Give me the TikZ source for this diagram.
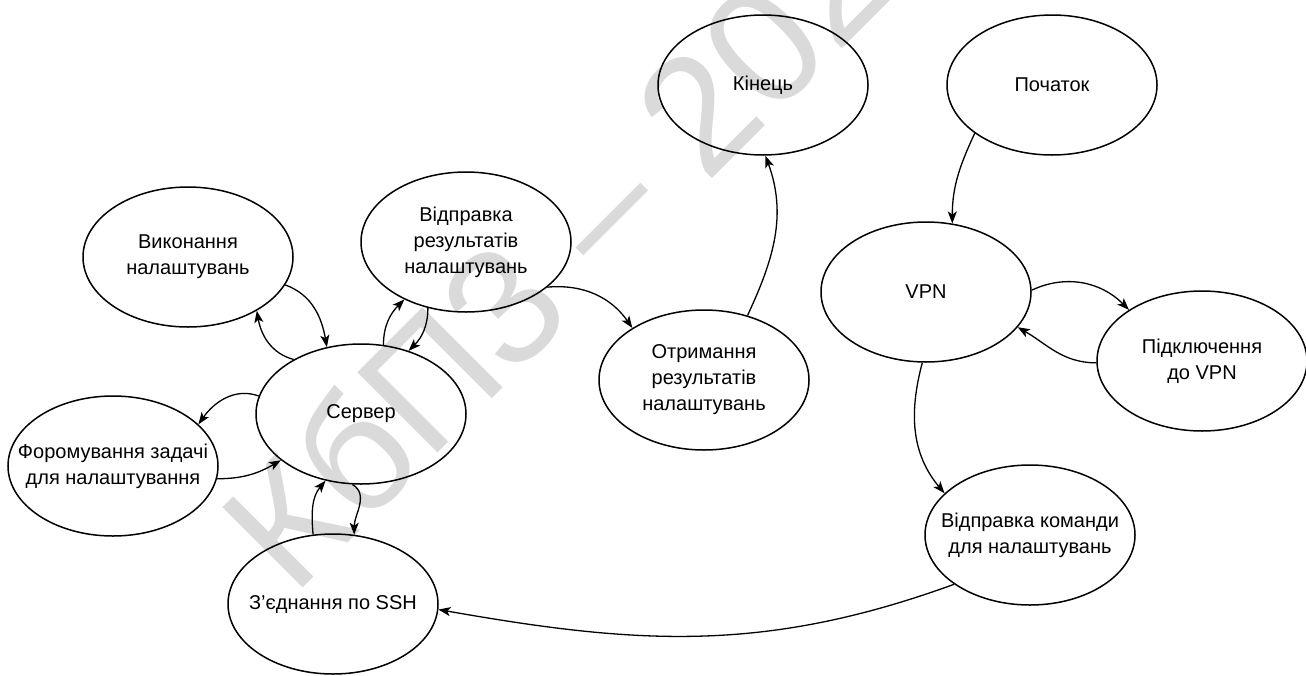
\documentclass[tikz,border=0pt]{standalone}
\usepackage{fontspec}
\setmainfont{Liberation Sans}
\usetikzlibrary{arrows.meta,shapes.geometric}
\definecolor{wmark}{HTML}{DADADA}
\begin{document}
\begin{tikzpicture}[x=1pt,y=-1pt,
  state/.style={draw=black, line width=1.5pt, ellipse, minimum width=210pt, minimum height=140pt, inner sep=0pt},
  lbl/.style={align=center, font=\fontsize{20}{26}\selectfont, inner sep=0pt},
  flow/.style={line width=1.3pt, -{Stealth[length=12pt,width=9pt,inset=3pt]}},
  wm/.style={text=wmark, font=\fontsize{165}{165}\selectfont, inner sep=0pt}]
\useasboundingbox (0,0) rectangle (1306,675);
\clip (0,0) rectangle (1306,675);

% background stamp
\node[wm, rotate=45, anchor=base west] (stamp) at (293,598) {КбП3 – 2021};

% states
\node[state, label={[lbl]center:Кінець}] (ken) at (763,85) {};
\node[state, label={[lbl]center:Початок}] (poch) at (1052,85) {};
\node[state, label={[lbl]center:VPN}] (vpn) at (926,292) {};
\node[state, label={[lbl]center:{Підключення\\до VPN}}] (pidk) at (1202,361) {};
\node[state, label={[lbl]center:{Відправка команди\\для налаштувань}}] (vidk) at (1030,535) {};
\node[state, label={[lbl]center:Сервер}] (srv) at (361,414) {};
\node[state, label={[lbl]center:З'єднання по SSH}] (ssh) at (333,604) {};
\node[state, label={[lbl]center:{Форомування задачі\\для налаштування}}] (form) at (113,466) {};
\node[state, label={[lbl]center:{Виконання\\налаштувань}}] (vyk) at (188,257) {};
\node[state, label={[lbl]center:{Відправка\\результатів\\налаштувань}}] (vidr) at (466,242) {};
\node[state, label={[lbl]center:{Отримання\\результатів\\налаштувань}}] (otr) at (704,380) {};

% transitions
\draw[flow] (poch.212) to[out=245,in=90] (vpn.69);
\draw[flow] (vpn.1) to[out=25,in=135] (pidk.145);
\draw[flow] (pidk.181) to[out=180,in=-30] (vpn.339);
\draw[flow] (vpn.267) to[out=255,in=130] (vidk.154);
\draw[flow] (vidk.213) to[out=200,in=-10] (ssh.357);
\draw[flow] (vidr.331) to[out=5,in=125] (otr.144);
\draw[flow] (otr.56) to[out=65,in=-70] (ken.272);
\draw[flow] (srv.72) to[out=90,in=225] (vidr.223);
\draw[flow] (vidr.240) to[out=270,in=45] (srv.53);
\draw[flow] (vyk.344) to[out=-20,in=100] (srv.117);
\draw[flow] (srv.141) to[out=165,in=-80] (vyk.322);
\draw[flow] (srv.170) to[out=160,in=55] (form.26);
\draw[flow] (form.353) to[out=0,in=210] (srv.210);
\draw[flow] (ssh.106) to[out=95,in=230] (srv.242);
\draw[flow] (srv.263) to[out=-30,in=90] (ssh.73);
\end{tikzpicture}
\end{document}
